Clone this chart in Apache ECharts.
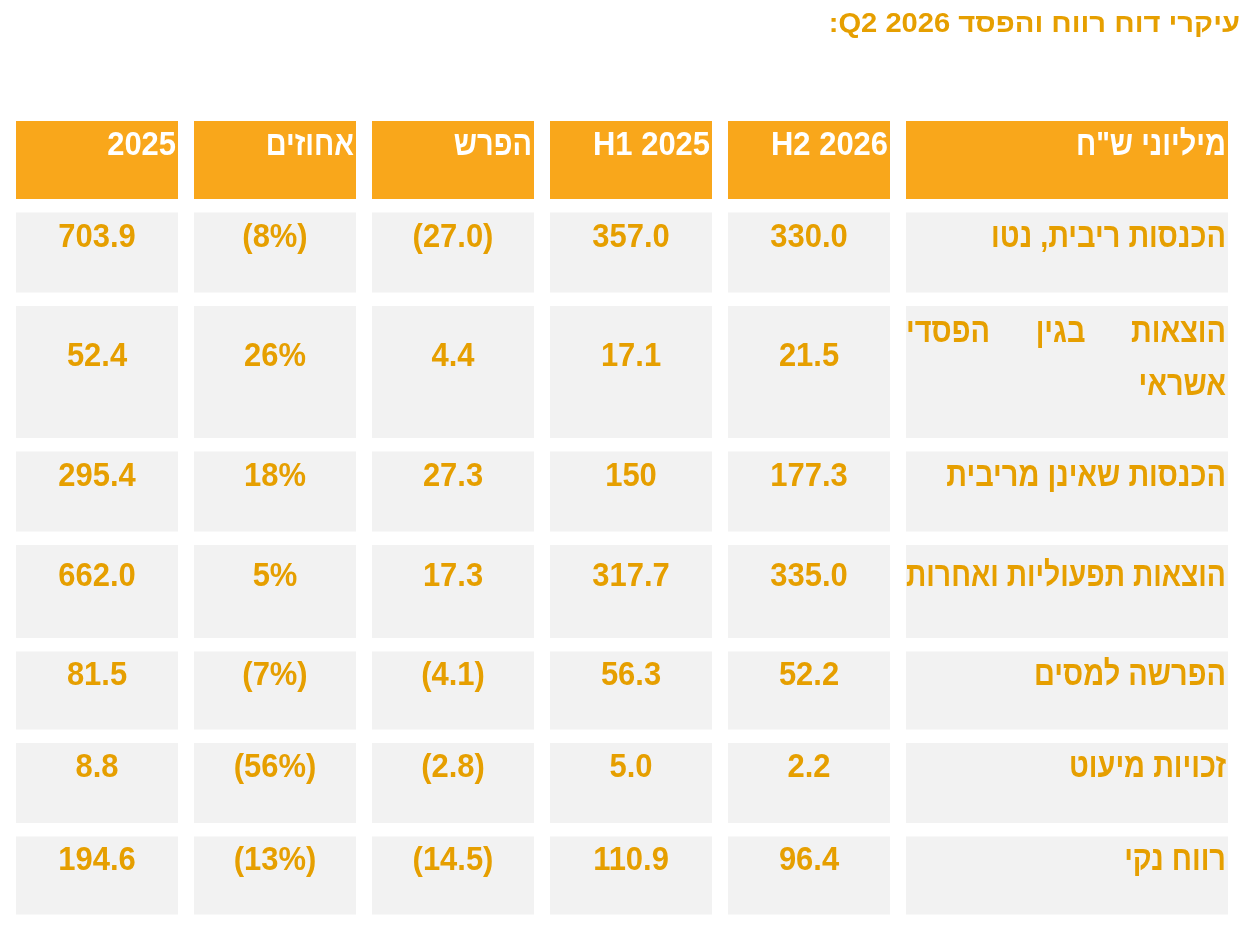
<!DOCTYPE html>
<html>
<head>
<meta charset="utf-8">
<script src="https://cdn.jsdelivr.net/npm/echarts@6/dist/echarts.min.js"></script>
<style>
  html, body { margin: 0; padding: 0; background: #ffffff; }
  #chart { width: 1252px; height: 930px; direction: rtl; }
</style>
</head>
<body>
<div id="chart"></div>
<script>
// ---------- data ----------
const TITLE = 'עיקרי דוח רווח והפסד Q2 2026:';
// header labels, right-to-left order
const headers = ['מיליוני ש"ח', 'H2 2026', 'H1 2025', 'הפרש', 'אחוזים', '2025'];
const rowLabels = [
  'הכנסות ריבית, נטו',
  'הוצאות בגין הפסדי\nאשראי',
  'הכנסות שאינן מריבית',
  'הוצאות תפעוליות ואחרות',
  'הפרשה למסים',
  'זכויות מיעוט',
  'רווח נקי'
];
const valH2_2026 = ['330.0', '21.5', '177.3', '335.0', '52.2', '2.2', '96.4'];
const valH1_2025 = ['357.0', '17.1', '150', '317.7', '56.3', '5.0', '110.9'];
const valDiff    = ['(27.0)', '4.4', '27.3', '17.3', '(4.1)', '(2.8)', '(14.5)'];
const valPct     = ['(8%)', '26%', '18%', '5%', '(7%)', '(56%)', '(13%)'];
const valY2025   = ['703.9', '52.4', '295.4', '662.0', '81.5', '8.8', '194.6'];

// ---------- layout (style, not data) ----------
const COL_W = [162, 162, 162, 162, 162, 322];   // screen left -> right
const COL_GAP = 16;
const ROW_H = [78, 80, 132, 80, 93, 78, 80, 78];
const ROW_GAP = 13.5;
const FONT_FAMILY = '"Liberation Sans", Arial, sans-serif';
const CELL_FONT = 34;
const NUM_SX = 0.91;   // horizontal squeeze for latin / digits
const HEB_SX = 0.85;   // horizontal squeeze for Hebrew text
const AMBER = '#E69F00';
const HEADER_BG = '#F9A71B';
const CELL_BG = '#F2F2F2';

const colStart = []; let acc = 0;
COL_W.forEach((w) => { colStart.push(acc); acc += w + COL_GAP; });
const totalW = acc - COL_GAP;
const rowStart = []; acc = 0;
ROW_H.forEach((h) => { rowStart.push(acc); acc += h + ROW_GAP; });
const totalH = acc - ROW_GAP;

// columns on screen left->right: 2025, %, diff, H1, H2, label
const valueCols = [valY2025, valPct, valDiff, valH1_2025, valH2_2026];

const cells = [];
const cellText = [];
for (let r = 0; r < ROW_H.length; r++) {
  for (let c = 0; c < COL_W.length; c++) {
    let t;
    if (r === 0) t = headers[COL_W.length - 1 - c];
    else if (c === COL_W.length - 1) t = rowLabels[r - 1];
    else t = valueCols[c][r - 1];
    cells.push([c, r]);
    cellText.push(t);
  }
}

const mctx = document.createElement('canvas').getContext('2d');
mctx.font = 'bold ' + CELL_FONT + 'px ' + FONT_FAMILY;
function sxOf(s) { return /[\u0590-\u05FF]/.test(s) ? HEB_SX : NUM_SX; }
function tw(s) { return mctx.measureText(s).width * sxOf(s); }

function textEl(x, y, s, align, color, sx) {
  return {
    type: 'text', x: x, y: y, scaleX: sx || sxOf(s),
    style: {
      text: s, fill: color, align: align, verticalAlign: 'middle',
      fontSize: CELL_FONT, fontWeight: 'bold', fontFamily: FONT_FAMILY
    }
  };
}

function renderItem(params, api) {
  const c = api.value(0), r = api.value(1);
  const a = api.coord([colStart[c], rowStart[r]]);
  const b = api.coord([colStart[c] + COL_W[c], rowStart[r] + ROW_H[r]]);
  const left = Math.min(a[0], b[0]), right = Math.max(a[0], b[0]);
  const top = Math.min(a[1], b[1]), bottom = Math.max(a[1], b[1]);
  const cx = (left + right) / 2, cy = (top + bottom) / 2;
  const text = cellText[params.dataIndex];
  const children = [{
    type: 'rect',
    shape: { x: left, y: top, width: right - left, height: bottom - top },
    style: { fill: r === 0 ? HEADER_BG : CELL_BG }
  }];
  if (r === 0) {
    children.push(textEl(right - 2, cy - 14, text, 'right', '#ffffff'));
  } else if (c === COL_W.length - 1) {
    const maxW = right - left - 2;
    const lines = text.split('\n');
    if (lines.length === 1) {
      const w = tw(text);
      const base = sxOf(text);
      const sx = w > maxW ? base * maxW / w : base;
      children.push(textEl(right - 2, cy - 15, text, 'right', AMBER, sx));
    } else {
      const lh = 53;
      lines.forEach((line, i) => {
        const ln = line.split(' ');
        const y = (cy - 13) + (i - (lines.length - 1) / 2) * lh;
        if (i < lines.length - 1 && ln.length > 1) {
          // justified line (right-to-left)
          const ws = ln.map(tw);
          const sum = ws.reduce((p, q) => p + q, 0);
          const gap = (maxW - sum) / (ln.length - 1);
          let xr = right - 2;
          ln.forEach((wd, k) => {
            children.push(textEl(xr, y, wd, 'right', AMBER));
            xr -= ws[k] + gap;
          });
        } else {
          children.push(textEl(right - 2, y, line, 'right', AMBER));
        }
      });
    }
  } else {
    children.push(textEl(cx, cy - 15, text, 'center', AMBER));
  }
  return { type: 'group', children: children };
}

const chart = echarts.init(document.getElementById('chart'));
chart.setOption({
  backgroundColor: '#ffffff',
  animation: false,
  graphic: [{
    type: 'text',
    right: 12, top: 11,
    scaleX: 1.08,
    style: {
      text: TITLE, fill: AMBER, fontSize: 27, fontWeight: 'bold', fontFamily: FONT_FAMILY
    }
  }],
  grid: { left: 16, top: 121, width: totalW, height: totalH },
  xAxis: { type: 'value', min: 0, max: totalW, show: false },
  yAxis: { type: 'value', min: 0, max: totalH, inverse: true, show: false },
  series: [{
    type: 'custom',
    clip: false,
    renderItem: renderItem,
    data: cells,
    silent: true
  }]
});
</script>
</body>
</html>
